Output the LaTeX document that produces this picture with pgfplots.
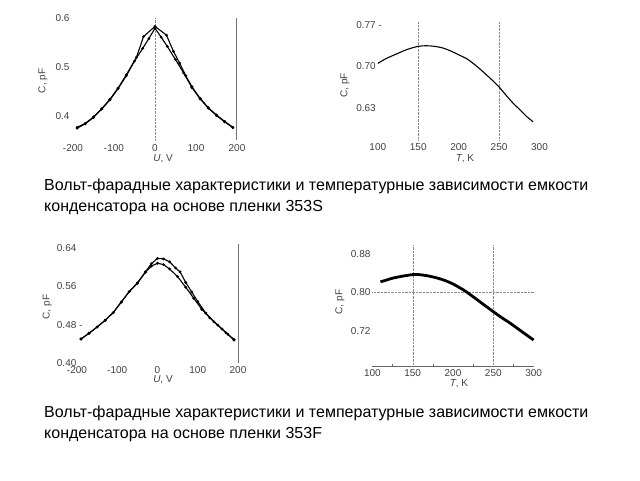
\documentclass[border=0pt]{standalone}
\usepackage{pgfplots}
\pgfplotsset{compat=1.18}
\usepackage{fontspec}
\setmainfont{Liberation Sans}
\pgfplotsset{
  panel/.style={
    scale only axis, clip=false,
    axis line style={draw=none}, tick style={draw=none},
    tick label style={font=\fontsize{10}{12}\selectfont, text=black!75},
    label style={font=\fontsize{10}{12}\selectfont, text=black!75},
    /pgf/number format/assume math mode=true,
  },
  cv/.style={black, line width=1.1pt, mark=*, mark size=0.8pt},
}
\begin{document}
\begin{tikzpicture}
\useasboundingbox (0pt,0pt) rectangle (640pt,480pt);

% ---------- Panel 1 ----------
\begin{axis}[panel, at={(73pt,339.5pt)}, anchor=south west,
  width=164pt, height=122.5pt, xmin=-200, xmax=200, ymin=0.35, ymax=0.6,
  xtick={-200,-100,0,100,200}, xticklabels={-200,-100,0,100,200},
  ytick={0.4,0.5,0.6}, yticklabels={0.4,0.5,0.6},
  xlabel={\textit{U}, V}, ylabel={C, pF},
  xlabel style={at={(axis description cs:0.549,-0.15)}, anchor=center},
  ylabel style={at={(axis description cs:-0.183,0.486)}, anchor=center}]
\draw[densely dotted, black!45] (axis cs:0,0.35) -- (axis cs:0,0.6);
\draw[black!55, line width=1pt] (axis cs:200,0.35) -- (axis cs:200,0.6);
\addplot[cv] coordinates {(-190,0.375) (-170,0.384) (-150,0.397) (-130,0.414) (-110,0.433) (-90,0.456) (-70,0.482) (-50,0.512) (-30,0.538) (-15,0.558) (0,0.579) (15,0.561) (30,0.542) (50,0.515) (70,0.488) (90,0.458) (110,0.435) (130,0.416) (150,0.401) (170,0.388) (190,0.376)};
\addplot[cv] coordinates {(-190,0.377) (-170,0.385) (-150,0.398) (-130,0.415) (-110,0.434) (-90,0.457) (-70,0.484) (-45,0.520) (-28,0.562) (0,0.583) (28,0.565) (45,0.532) (60,0.508) (75,0.482) (90,0.460) (110,0.436) (130,0.417) (150,0.402) (170,0.389) (190,0.377)};
\end{axis}

% ---------- Panel 2 ----------
\begin{axis}[panel, at={(377.8pt,340pt)}, anchor=south west,
  width=161.7pt, height=119pt, xmin=100, xmax=300, ymin=0.575, ymax=0.777,
  xtick={100,150,200,250,300}, xticklabels={100,150,200,250,300},
  ytick={0.63,0.70,0.77}, yticklabels={0.63,0.70,{0.77 -}},
  yticklabel style={anchor=west, xshift=-25pt},
  xlabel={\textit{T}, K}, ylabel={C, pF},
  xlabel style={at={(axis description cs:0.539,-0.16)}, anchor=center},
  ylabel style={at={(axis description cs:-0.203,0.46)}, anchor=center}]
\draw[densely dotted, black!45] (axis cs:150,0.575) -- (axis cs:150,0.777);
\draw[densely dotted, black!45] (axis cs:250,0.575) -- (axis cs:250,0.777);
\addplot[black, line width=1.1pt, smooth] coordinates {(100,0.705) (110,0.713) (123,0.721) (137,0.729) (150,0.734) (160,0.735) (170,0.734) (181,0.731) (192,0.725) (201,0.719) (210,0.713) (218,0.705) (226,0.696) (234,0.686) (242,0.676) (250,0.665) (258,0.652) (267,0.638) (276,0.626) (284,0.615) (292,0.606)};
\end{axis}

% ---------- Panel 3 ----------
\begin{axis}[panel, at={(77pt,117pt)}, anchor=south west,
  width=161pt, height=119pt, xmin=-200, xmax=200, ymin=0.40, ymax=0.648,
  xtick={-200,-100,0,100,200}, xticklabels={-200,-100,0,100,200},
  ytick={0.40,0.48,0.56,0.64}, yticklabels={0.40,{0.48 -},0.56,0.64},
  yticklabel style={anchor=west, xshift=-23.6pt},
  xlabel={\textit{U}, V}, ylabel={C, pF},
  xlabel style={at={(axis description cs:0.534,-0.14)}, anchor=center},
  ylabel style={at={(axis description cs:-0.186,0.47)}, anchor=center}]
\draw[black!55, line width=1pt] (axis cs:200,0.40) -- (axis cs:200,0.648);
\addplot[cv] coordinates {(-190,0.450) (-170,0.462) (-150,0.475) (-130,0.489) (-110,0.505) (-90,0.527) (-70,0.549) (-50,0.566) (-30,0.589) (-15,0.602) (0,0.608) (15,0.605) (30,0.596) (50,0.580) (70,0.558) (90,0.535) (110,0.512) (130,0.494) (150,0.479) (170,0.463) (190,0.448)};
\addplot[cv] coordinates {(-190,0.450) (-170,0.462) (-150,0.475) (-130,0.489) (-110,0.505) (-90,0.527) (-70,0.549) (-50,0.567) (-30,0.590) (-15,0.607) (0,0.618) (15,0.617) (30,0.611) (45,0.598) (56,0.590) (70,0.568) (85,0.548) (100,0.528) (120,0.504) (140,0.486) (160,0.471) (175,0.460) (190,0.449)};
\end{axis}

% ---------- Panel 4 ----------
\begin{axis}[panel, at={(372.4pt,114pt)}, anchor=south west,
  width=161.2pt, height=120.7pt, xmin=100, xmax=300, ymin=0.647, ymax=0.898,
  xtick={100,150,200,250,300}, xticklabels={100,150,200,250,300},
  ytick={0.72,0.80,0.88}, yticklabels={0.72,0.80,0.88},
  yticklabel style={anchor=west, xshift=-25pt},
  xlabel={\textit{T}, K}, ylabel={C, pF},
  xlabel style={at={(axis description cs:0.537,-0.149)}, anchor=center},
  ylabel style={at={(axis description cs:-0.201,0.53)}, anchor=center}]
\draw[densely dotted, black!45] (axis cs:150,0.647) -- (axis cs:150,0.898);
\draw[densely dotted, black!45] (axis cs:250,0.647) -- (axis cs:250,0.898);
\draw[densely dotted, black!45] (axis cs:100,0.80) -- (axis cs:300,0.80);
\draw[black!60, line width=0.6pt] (axis cs:100,0.647) -- (axis cs:300,0.647);
\draw[black!60, line width=0.5pt] (axis cs:125,0.647) -- (axis cs:125,0.652);
\draw[black!60, line width=0.5pt] (axis cs:175,0.647) -- (axis cs:175,0.652);
\draw[black!60, line width=0.5pt] (axis cs:225,0.647) -- (axis cs:225,0.652);
\draw[black!60, line width=0.5pt] (axis cs:275,0.647) -- (axis cs:275,0.652);
\addplot[black, line width=2.8pt, smooth] coordinates {(110,0.822) (118,0.826) (126,0.830) (138,0.834) (150,0.837) (158,0.837) (167,0.835) (178,0.831) (188,0.826) (197,0.820) (205,0.813) (215,0.803) (225,0.791) (237,0.776) (250,0.760) (260,0.748) (271,0.736) (285,0.719) (300,0.701)};
\end{axis}

% ---------- Captions ----------
\begin{scope}[every node/.style={anchor=base west, inner sep=0pt, font=\fontsize{16}{19}\selectfont}]
\node at (44pt,289pt) {Вольт-фарадные характеристики и температурные зависимости емкости};
\node at (44pt,268pt) {конденсатора на основе пленки 353S};
\node at (44pt,63pt) {Вольт-фарадные характеристики и температурные зависимости емкости};
\node at (44pt,42pt) {конденсатора на основе пленки 353F};
\end{scope}
\end{tikzpicture}
\end{document}
